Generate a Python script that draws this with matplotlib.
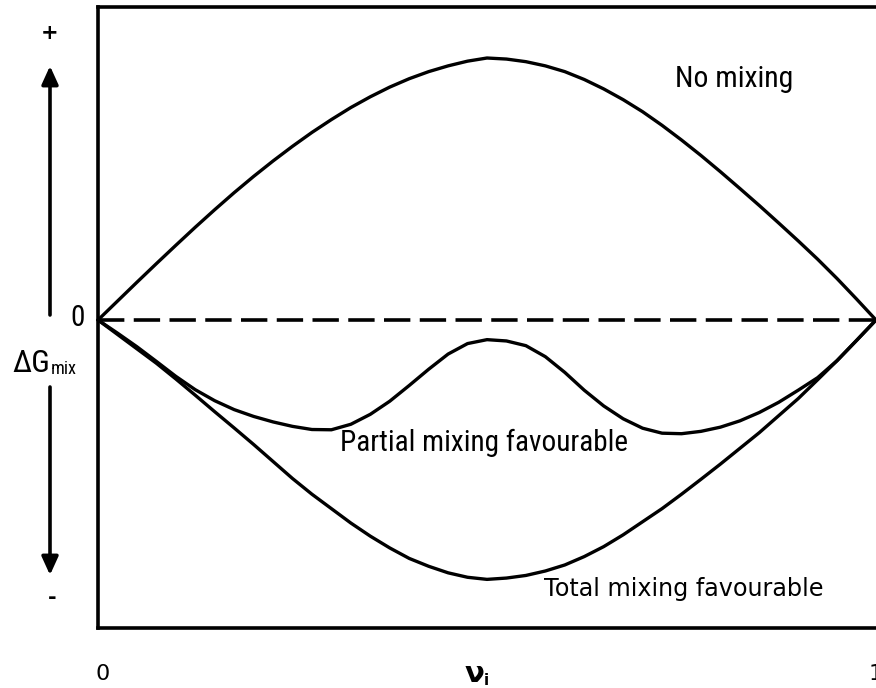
import matplotlib
matplotlib.use("Agg")
import matplotlib.pyplot as plt
from matplotlib import font_manager
from matplotlib.font_manager import FontProperties
from matplotlib.ft2font import FT2Font

# Mole fraction grid and free energy of mixing curves (arbitrary units)
x_grid = [0.000, 0.025, 0.050, 0.075, 0.100, 0.125, 0.150, 0.175, 0.200, 0.225,
          0.250, 0.275, 0.300, 0.325, 0.350, 0.375, 0.400, 0.425, 0.450, 0.475,
          0.500, 0.525, 0.550, 0.575, 0.600, 0.625, 0.650, 0.675, 0.700, 0.725,
          0.750, 0.775, 0.800, 0.825, 0.850, 0.875, 0.900, 0.925, 0.950, 0.975, 1.000]
no_mixing = [0.000, 0.072, 0.144, 0.215, 0.285, 0.354, 0.421, 0.486, 0.548, 0.607,
             0.663, 0.716, 0.765, 0.811, 0.852, 0.889, 0.921, 0.948, 0.970, 0.988,
             1.000, 0.996, 0.986, 0.970, 0.948, 0.918, 0.882, 0.841, 0.795, 0.743,
             0.687, 0.628, 0.566, 0.502, 0.437, 0.370, 0.302, 0.232, 0.158, 0.080, 0.000]
total_mixing = [0.000, -0.055, -0.110, -0.165, -0.225, -0.287, -0.350, -0.412, -0.475, -0.540,
                -0.605, -0.665, -0.720, -0.775, -0.825, -0.870, -0.910, -0.940, -0.965, -0.982,
                -0.990, -0.985, -0.975, -0.958, -0.935, -0.903, -0.865, -0.820, -0.770, -0.720,
                -0.665, -0.608, -0.550, -0.490, -0.430, -0.365, -0.300, -0.228, -0.155, -0.078, 0.000]
partial_mixing = [0.000, -0.050, -0.102, -0.158, -0.215, -0.266, -0.308, -0.342, -0.368, -0.389,
                  -0.406, -0.418, -0.419, -0.398, -0.360, -0.310, -0.250, -0.188, -0.130, -0.090,
                  -0.075, -0.080, -0.098, -0.140, -0.200, -0.268, -0.328, -0.377, -0.413, -0.432,
                  -0.434, -0.425, -0.409, -0.385, -0.353, -0.314, -0.268, -0.220, -0.155, -0.078, 0.000]


def has_glyphs(path, chars):
    try:
        ft = FT2Font(path)
        return all(ft.get_char_index(ord(c)) != 0 for c in chars)
    except Exception:
        return False


def pick_condensed():
    ranked = []
    for f in font_manager.fontManager.ttflist:
        label = f.name + " " + f.fname
        narrow = ("Narrow" in label or "Condensed" in label
                  or f.stretch in ("condensed", "semi-condensed"))
        if not narrow or f.style != "normal":
            continue
        if f.weight not in (400, "normal", "regular"):
            continue
        if any(k in label for k in ("Mono", "Serif", "Light", "Italic", "Oblique", "Bold")):
            continue
        if not has_glyphs(f.fname, "ΔGmix0"):
            continue
        order = ["Liberation", "Roboto", "Noto", "DejaVu", "Open"]
        rank = next((i for i, k in enumerate(order) if k in f.name), len(order))
        ranked.append((rank, f.fname))
    if ranked:
        ranked.sort()
        return FontProperties(fname=ranked[0][1])
    return FontProperties(family="Liberation Sans")


cond_fp = pick_condensed()

W, H = 876, 688
fig = plt.figure(figsize=(W / 100, H / 100), dpi=100)


def fx(px):
    return px / W


def fy(py):
    return 1 - py / H


def cond(size):
    fp = cond_fp.copy()
    fp.set_size(size)
    return fp


ax = fig.add_axes([fx(98), fy(628), 1 - fx(98), fy(7) - fy(628)])
ax.set_xlim(0, 1)
ax.set_ylim(-1.1756, 1.1947)
ax.spines["right"].set_visible(False)
for side in ("left", "top", "bottom"):
    ax.spines[side].set_linewidth(2.6)
ax.set_xticks([])
ax.set_yticks([])

lw = 2.4
for series in (no_mixing, total_mixing, partial_mixing):
    ax.plot(x_grid, series, color="black", lw=lw, solid_joinstyle="round",
            solid_capstyle="round", clip_on=False)
ax.plot([0, 1], [0, 0], color="black", lw=2.6, linestyle=(0, (7.3, 2.6)), clip_on=False)

# Curve annotations
t_no = fig.text(fx(734), fy(87), "No mixing", fontproperties=cond(21.5),
                ha="center", va="baseline")
t_part = fig.text(fx(484), fy(451), "Partial mixing favourable", fontproperties=cond(22),
                  ha="center", va="baseline")
t_tot = fig.text(fx(684), fy(596), "Total mixing favourable", family="DejaVu Sans",
                 fontsize=17.2, ha="center", va="baseline")

# Vertical ΔG axis with arrows
arrow_kw = dict(arrowstyle="-|>,head_length=0.55,head_width=0.25", lw=2.6,
                color="black", mutation_scale=20, shrinkA=0, shrinkB=0)
ax.annotate("", xy=(fx(50), fy(66)), xytext=(fx(50), fy(315)),
            xycoords="figure fraction", textcoords="figure fraction", arrowprops=arrow_kw)
ax.annotate("", xy=(fx(50), fy(575)), xytext=(fx(50), fy(387)),
            xycoords="figure fraction", textcoords="figure fraction", arrowprops=arrow_kw)
fig.text(fx(50), fy(33), "+", family="DejaVu Sans", fontsize=15, fontweight="bold",
         ha="center", va="center")
fig.text(fx(52), fy(598), "-", family="DejaVu Sans", fontsize=15, fontweight="bold",
         ha="center", va="center")
fig.text(fx(78), fy(318), "0", fontproperties=cond(21), ha="center", va="center")
t_dg = fig.text(fx(12), fy(372), "ΔG", fontproperties=cond(23), ha="left", va="baseline")
t_mix = fig.text(fx(51), fy(374), "mix", fontproperties=cond(15), ha="left", va="baseline")

# x-axis labels
fig.text(fx(103), fy(680), "0", family="DejaVu Sans", fontsize=16, ha="center", va="baseline")
fig.text(fx(876), fy(680), "1", family="DejaVu Sans", fontsize=16, ha="center", va="baseline")
fig.text(fx(484), fy(682), "ν", family="DejaVu Sans", fontsize=21, fontweight="bold",
         ha="right", va="baseline")
fig.text(fx(484), fy(685), "i", family="DejaVu Sans", fontsize=11, fontweight="bold",
         ha="left", va="baseline")

# Size the condensed labels to their intended pixel widths
renderer = fig.canvas.get_renderer()
for txt, width_px in ((t_no, 118), (t_part, 288), (t_dg, 38), (t_mix, 26)):
    bb = txt.get_window_extent(renderer)
    if bb.width > 0:
        txt.set_fontsize(txt.get_fontsize() * width_px / bb.width)

fig.savefig("out.png", dpi=100, facecolor="white")
